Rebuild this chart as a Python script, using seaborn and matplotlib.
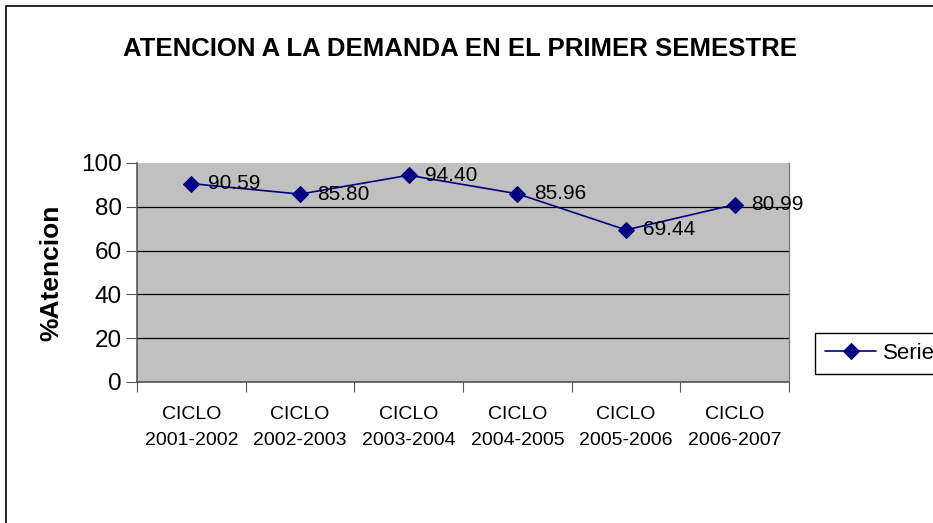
import matplotlib
matplotlib.use('Agg')
import matplotlib.pyplot as plt
import seaborn as sns
import pandas as pd
from matplotlib.patches import Rectangle

# Datos
ciclos = ['CICLO\n2001-2002', 'CICLO\n2002-2003', 'CICLO\n2003-2004',
          'CICLO\n2004-2005', 'CICLO\n2005-2006', 'CICLO\n2006-2007']
atencion = [90.59, 85.80, 94.40, 85.96, 69.44, 80.99]
titulo = 'ATENCION A LA DEMANDA EN EL PRIMER SEMESTRE'
serie = 'Serie1'

df = pd.DataFrame({'pos': range(len(ciclos)), 'atencion': atencion})

sns.set_style('white')
plt.rcParams['font.family'] = ['Liberation Sans', 'DejaVu Sans']
plt.rcParams['text.color'] = 'black'
plt.rcParams['axes.labelcolor'] = 'black'
plt.rcParams['xtick.color'] = 'black'
plt.rcParams['ytick.color'] = 'black'

fig = plt.figure(figsize=(9.33, 5.23), dpi=100)
ax = fig.add_axes([137 / 933, 1 - 382 / 523, 652 / 933, 219 / 523])
ax.set_facecolor('#c0c0c0')

sns.lineplot(data=df, x='pos', y='atencion', ax=ax, color='#000080',
             marker='D', markersize=8, markeredgecolor='#000080',
             linewidth=1.2, label=serie, legend=False, zorder=3)

for x, y in zip(df['pos'], df['atencion']):
    ax.annotate(f'{y:.2f}', (x, y), xytext=(12, 0), textcoords='offset points',
                va='center', ha='left', fontsize=15, annotation_clip=False,
                zorder=4)

ax.set_xlim(-0.5, len(ciclos) - 0.5)
ax.set_ylim(0, 100)
ax.set_yticks([0, 20, 40, 60, 80, 100])
ax.yaxis.grid(True, color='black', linewidth=0.9)
ax.set_axisbelow(True)
ax.tick_params(axis='y', labelsize=17.5, length=8, direction='out', left=True,
               color='#555555', pad=3, labelcolor='black')

# marcas en los limites de categoria, etiquetas al centro
ax.set_xticks([i - 0.5 for i in range(len(ciclos) + 1)])
ax.set_xticklabels([])
ax.set_xticks(range(len(ciclos)), minor=True)
ax.set_xticklabels(ciclos, minor=True, fontsize=14, linespacing=1.75)
ax.tick_params(axis='x', which='major', length=7, direction='out',
               bottom=True, color='#555555')
ax.tick_params(axis='x', which='minor', length=0, pad=17, labelcolor='black')

ax.spines['top'].set_visible(False)
ax.spines['right'].set_color('#808080')
ax.spines['right'].set_linewidth(1.0)
for s in ['left', 'bottom']:
    ax.spines[s].set_color('#555555')
    ax.spines[s].set_linewidth(1.2)

ax.set_xlabel('')
ax.set_ylabel('%Atencion', fontsize=19, fontweight='bold', labelpad=13)

fig.text(460 / 933, 1 - 49 / 523, titulo, ha='center', va='center',
         fontsize=18.5, fontweight='bold')

fig.legend(loc='upper left', bbox_to_anchor=(815 / 933, 1 - 333 / 523),
           fontsize=16, frameon=True, fancybox=False, edgecolor='black',
           handlelength=2.3, handletextpad=0.3, borderpad=0.45,
           borderaxespad=0, framealpha=1)

fig.canvas.draw()
# sin linea de cuadricula en el tope (100)
ax.yaxis.get_gridlines()[-1].set_visible(False)

# borde del grafico
fig.add_artist(Rectangle((6 / 933, -0.1), 1.2, 1.1 - 6 / 523,
                         transform=fig.transFigure, fill=False,
                         edgecolor='black', linewidth=1.2))

plt.savefig('out.png', dpi=100)
